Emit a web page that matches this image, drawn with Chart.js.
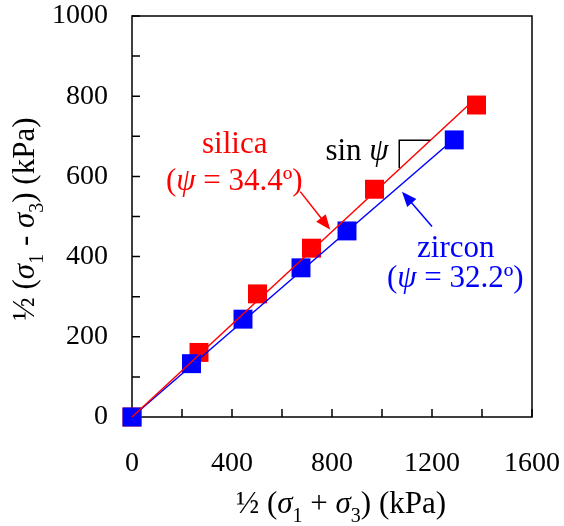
<!DOCTYPE html>
<html>
<head>
<meta charset="utf-8">
<script src="https://cdn.jsdelivr.net/npm/chart.js@4.4.0/dist/chart.umd.min.js"></script>
<style>
  html, body { margin: 0; padding: 0; background: #fff; }
  #wrap { width: 564px; height: 526px; position: relative; }
</style>
</head>
<body>
<div id="wrap"><canvas id="c"></canvas></div>
<script>
const SERIF = "'Liberation Serif', 'Times New Roman', serif";

// measured points, kPa
const silicaX = [0, 268, 502, 718, 970, 1378];
const silicaY = [0, 161, 307, 421, 568, 778];
const zirconX = [0, 238, 444, 676, 860, 1289];
const zirconY = [0, 133, 244, 372, 464, 691];

// fitted lines (end points)
const silicaFitX = [0, 1360];
const silicaFitY = [0, 786];
const zirconFitX = [0, 1280];
const zirconFitY = [0, 689];

const xTicks = [0, 400, 800, 1200, 1600];
const xMinorTicks = [200, 600, 1000, 1400];
const yTicks = [0, 200, 400, 600, 800, 1000];
const yMinorTicks = [100, 300, 500, 700, 900];

const RED = '#ff0000';
const BLUE = '#0000ff';

const pts = (xs, ys) => xs.map((x, i) => ({ x: x, y: ys[i] }));

function fontOf(p, size) {
    const s = p.sub ? Math.round(size * 0.65) : size;
    return (p.it ? 'italic ' : '') + s + 'px ' + SERIF;
}

// draws a run of text pieces (italic / subscript) centred on x
function drawRuns(ctx, parts, size, x, y) {
    let w = 0;
    parts.forEach(p => { ctx.font = fontOf(p, size); p.w = ctx.measureText(p.t).width; w += p.w; });
    let cx = x - w / 2;
    ctx.textAlign = 'left';
    ctx.textBaseline = 'alphabetic';
    parts.forEach(p => {
        ctx.font = fontOf(p, size);
        ctx.fillText(p.t, cx, y + (p.sub ? size * 0.3 : 0));
        cx += p.w;
    });
}

function arrow(ctx, x0, y0, x1, y1, color) {
    const ang = Math.atan2(y1 - y0, x1 - x0);
    const len = 15, hw = 6;
    ctx.strokeStyle = color;
    ctx.fillStyle = color;
    ctx.lineWidth = 1.5;
    ctx.beginPath();
    ctx.moveTo(x0, y0);
    ctx.lineTo(x1 - Math.cos(ang) * len * 0.8, y1 - Math.sin(ang) * len * 0.8);
    ctx.stroke();
    ctx.beginPath();
    ctx.moveTo(x1, y1);
    ctx.lineTo(x1 - Math.cos(ang) * len - Math.sin(ang) * hw, y1 - Math.sin(ang) * len + Math.cos(ang) * hw);
    ctx.lineTo(x1 - Math.cos(ang) * len + Math.sin(ang) * hw, y1 - Math.sin(ang) * len - Math.cos(ang) * hw);
    ctx.closePath();
    ctx.fill();
}

const framePlugin = {
    id: 'frame',
    beforeDatasetsDraw(chart) {
        const { ctx, chartArea: a, scales: { x, y } } = chart;
        ctx.save();
        ctx.strokeStyle = '#000';
        ctx.lineWidth = 1.5;
        ctx.strokeRect(a.left, a.top, a.right - a.left, a.bottom - a.top);
        ctx.beginPath();
        xTicks.concat(xMinorTicks).forEach(v => {
            const px = x.getPixelForValue(v);
            ctx.moveTo(px, a.bottom);
            ctx.lineTo(px, a.bottom - 8);
        });
        yTicks.concat(yMinorTicks).forEach(v => {
            const py = y.getPixelForValue(v);
            ctx.moveTo(a.left, py);
            ctx.lineTo(a.left + 8, py);
        });
        ctx.stroke();
        ctx.restore();
    },
    afterDatasetsDraw(chart) {
        const { ctx, scales: { x, y } } = chart;
        const X = v => x.getPixelForValue(v), Y = v => y.getPixelForValue(v);
        ctx.save();

        // axis titles
        ctx.fillStyle = '#000';
        drawRuns(ctx, [{ t: '½ (' }, { t: 'σ', it: true }, { t: '1', sub: true }, { t: ' + ' },
                       { t: 'σ', it: true }, { t: '3', sub: true }, { t: ') (kPa)' }], 31, 341, 513);
        ctx.save();
        ctx.translate(33.5, 219);
        ctx.rotate(-Math.PI / 2);
        drawRuns(ctx, [{ t: '½ (' }, { t: 'σ', it: true }, { t: '1', sub: true }, { t: ' - ' },
                       { t: 'σ', it: true }, { t: '3', sub: true }, { t: ') (kPa)' }], 31, 0, 0);
        ctx.restore();

        // silica label
        ctx.fillStyle = RED;
        drawRuns(ctx, [{ t: 'silica' }], 31, X(411), Y(659));
        drawRuns(ctx, [{ t: '(' }, { t: 'ψ', it: true }, { t: ' = 34.4º)' }], 31, X(409), Y(567));
        arrow(ctx, X(673), Y(562), X(793), Y(467), RED);

        // zircon label
        ctx.fillStyle = BLUE;
        drawRuns(ctx, [{ t: 'zircon' }], 31, X(1295), Y(400));
        drawRuns(ctx, [{ t: '(' }, { t: 'ψ', it: true }, { t: ' = 32.2º)' }], 31, X(1293), Y(324));
        arrow(ctx, X(1200), Y(475), X(1080), Y(562), BLUE);

        // slope triangle
        ctx.fillStyle = '#000';
        drawRuns(ctx, [{ t: 'sin ' }, { t: 'ψ', it: true }], 31, X(900), Y(642));
        ctx.strokeStyle = '#000';
        ctx.lineWidth = 1.5;
        ctx.beginPath();
        ctx.moveTo(X(1193), Y(690));
        ctx.lineTo(X(1069), Y(690));
        ctx.lineTo(X(1069), Y(621));
        ctx.stroke();

        ctx.restore();
    }
};

// keep the plot box where the original has it: no extra room for overhanging labels
const noOverhang = s => { s.paddingLeft = 0; s.paddingRight = 0; s.paddingTop = 0; s.paddingBottom = 0; };

new Chart(document.getElementById('c'), {
    type: 'scatter',
    data: {
        datasets: [
            { label: 'silica fit', data: pts(silicaFitX, silicaFitY), showLine: true, pointRadius: 0,
              borderColor: RED, borderWidth: 1.5, order: 1, clip: false },
            { label: 'zircon fit', data: pts(zirconFitX, zirconFitY), showLine: true, pointRadius: 0,
              borderColor: BLUE, borderWidth: 1.5, order: 2, clip: false },
            { label: 'zircon', data: pts(zirconX, zirconY), pointStyle: 'rect', pointRadius: 13.4,
              backgroundColor: BLUE, borderWidth: 0, order: 3, clip: false },
            { label: 'silica', data: pts(silicaX, silicaY), pointStyle: 'rect', pointRadius: 13.4,
              backgroundColor: RED, borderWidth: 0, order: 4, clip: false }
        ]
    },
    options: {
        responsive: true,
        maintainAspectRatio: false,
        animation: false,
        layout: { padding: { top: 16, right: 32, left: 0, bottom: 0 } },
        plugins: { legend: { display: false }, tooltip: { enabled: false } },
        scales: {
            x: {
                type: 'linear', min: 0, max: 1600,
                afterBuildTicks: s => { s.ticks = xTicks.map(v => ({ value: v })); },
                afterFit: s => { s.height = 109; noOverhang(s); },
                grid: { display: false, drawTicks: false },
                border: { display: false },
                ticks: { color: '#000', font: { family: SERIF, size: 28 }, padding: 30, maxRotation: 0,
                         autoSkip: false, callback: v => String(v) }
            },
            y: {
                type: 'linear', min: 0, max: 1000,
                afterBuildTicks: s => { s.ticks = yTicks.map(v => ({ value: v })); },
                afterFit: s => { s.width = 132; noOverhang(s); },
                grid: { display: false, drawTicks: false },
                border: { display: false },
                ticks: { color: '#000', font: { family: SERIF, size: 28 }, padding: 24, autoSkip: false,
                         callback: v => String(v) }
            }
        }
    },
    plugins: [framePlugin]
});
</script>
</body>
</html>
